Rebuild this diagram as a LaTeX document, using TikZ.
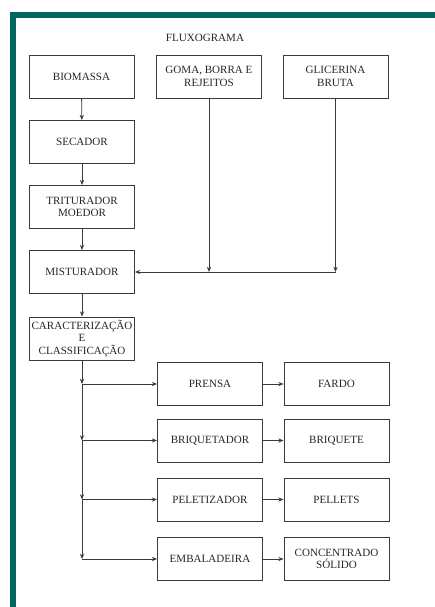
\documentclass[tikz,border=0pt]{standalone}
\usepackage{fontspec}
\setmainfont{Liberation Serif}
\usetikzlibrary{arrows.meta, positioning, calc}
\definecolor{frameteal}{HTML}{00665E}
\definecolor{linegray}{HTML}{3A3A3A}

\begin{document}
\begin{tikzpicture}[
  x=0.02cm, y=-0.02cm,
  every node/.style={font=\fontsize{6.3}{7.2}\selectfont, text=black!85},
  stage/.style={rectangle, draw=linegray, line width=0.5pt, minimum width=2.1cm, minimum height=0.86cm, align=center, inner sep=1pt},
  flow/.style={draw=linegray, line width=0.5pt, -{Stealth[length=3pt, width=2.4pt]}},
]
\useasboundingbox (0,0) rectangle (435,607);
% Frame
\fill[frameteal] (10,12) rectangle (435,18);
\fill[frameteal] (10,12) rectangle (16,607);

\node (title) at (205,38) {FLUXOGRAMA};

% Inputs
\node[stage] (biomassa) at (81.5,76.5) {BIOMASSA};
\node[stage] (goma) at (209,76.5) {GOMA, BORRA E\\REJEITOS};
\node[stage] (glicerina) at (335.5,76.5) {GLICERINA\\BRUTA};

% Main line
\node[stage] (secador) at (82,142) {SECADOR};
\node[stage] (triturador) at (82,207) {TRITURADOR\\MOEDOR};
\node[stage] (misturador) at (82,272) {MISTURADOR};
\node[stage] (caract) at (82,338.5) {CARACTERIZAÇÃO\\E\\CLASSIFICAÇÃO};

% Processes and products
\node[stage] (prensa) at (210,384) {PRENSA};
\node[stage] (fardo) at (336.5,384) {FARDO};
\node[stage] (briquetador) at (210,440.5) {BRIQUETADOR};
\node[stage] (briquete) at (336.5,440.5) {BRIQUETE};
\node[stage] (peletizador) at (210,499.5) {PELETIZADOR};
\node[stage] (pellets) at (336.5,499.5) {PELLETS};
\node[stage] (embaladeira) at (210,559) {EMBALADEIRA};
\node[stage] (concentrado) at (336.5,559) {CONCENTRADO\\SÓLIDO};

\draw[flow] (biomassa) -- (secador);
\draw[flow] (secador) -- (triturador);
\draw[flow] (triturador) -- (misturador);
\draw[flow] (misturador) -- (caract);

% Side inputs to the mixer
\coordinate (jgoma) at (goma.south |- misturador.east);
\coordinate (jglic) at (glicerina.south |- misturador.east);
\draw[flow] (goma.south) -- (jgoma);
\draw[flow] (glicerina.south) -- (jglic);
\draw[flow] (jglic) -- (misturador.east);

% Distribution trunk
\coordinate (b1) at (caract.south |- prensa.west);
\coordinate (b2) at (caract.south |- briquetador.west);
\coordinate (b3) at (caract.south |- peletizador.west);
\coordinate (b4) at (caract.south |- embaladeira.west);
\draw[flow] (caract.south) -- (b1);
\draw[flow] (b1) -- (b2);
\draw[flow] (b2) -- (b3);
\draw[flow] (b3) -- (b4);
\draw[flow] (b1) -- (prensa);
\draw[flow] (b2) -- (briquetador);
\draw[flow] (b3) -- (peletizador);
\draw[flow] (b4) -- (embaladeira);

\draw[flow] (prensa) -- (fardo);
\draw[flow] (briquetador) -- (briquete);
\draw[flow] (peletizador) -- (pellets);
\draw[flow] (embaladeira) -- (concentrado);

\end{tikzpicture}
\end{document}
